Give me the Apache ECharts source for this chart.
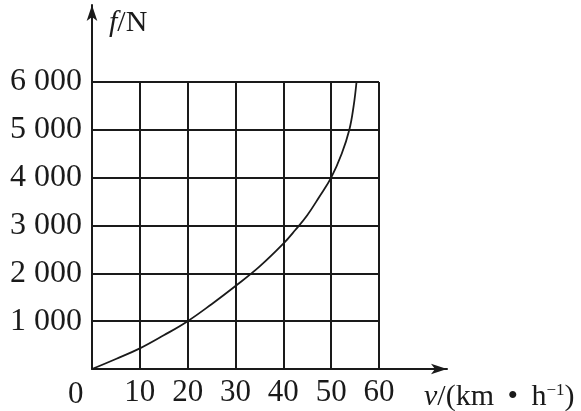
<!DOCTYPE html>
<html>
<head>
<meta charset="utf-8">
<script src="https://cdn.jsdelivr.net/npm/echarts@6/dist/echarts.min.js"></script>
<style>html,body{margin:0;padding:0;background:#fff;}#c{width:581px;height:411px;}</style>
</head>
<body>
<div id="c"></div>
<script>
// Data
var xTicks = [0, 10, 20, 30, 40, 50, 60];
var yTicks = [0, 1000, 2000, 3000, 4000, 5000, 6000];
var yTickLabels = ['0', '1 000', '2 000', '3 000', '4 000', '5 000', '6 000'];
var speed = [0, 5, 10, 15, 20, 25, 30, 35, 40, 42.5, 45, 47.5, 50, 52.2, 53.8, 54.7, 55.3];
var force = [0, 210, 431, 705, 1000, 1355, 1735, 2140, 2620, 2905, 3215, 3596, 4000, 4500, 5000, 5500, 6000];

var curve = speed.map(function (v, i) { return [v, force[i]]; });
var ink = '#1a1a1a';
var serif = '"Liberation Serif", "DejaVu Serif", serif';

var chart = echarts.init(document.getElementById('c'), null, {renderer: 'canvas'});
chart.setOption({
  backgroundColor: '#fff',
  animation: false,
  grid: [
    {left: 92, right: 202, top: 82, bottom: 42},
    {left: 92, right: 134, top: 5, bottom: 42}
  ],
  xAxis: [
    {
      type: 'value', gridIndex: 0, min: 0, max: 60, interval: 10,
      axisLine: {show: false},
      axisTick: {show: false},
      splitLine: {show: true, lineStyle: {color: ink, width: 2}},
      axisLabel: {
        color: ink, fontFamily: serif, fontSize: 31, margin: 8,
        formatter: function (v) { return v === 0 ? '' : String(v); }
      }
    },
    {
      type: 'value', gridIndex: 1, min: 0, max: 74,
      axisLine: {show: true, onZero: false, lineStyle: {color: ink, width: 2},
        symbol: ['none', 'arrow'], symbolSize: [8, 16], symbolOffset: [0, 0]},
      axisTick: {show: false}, axisLabel: {show: false}, splitLine: {show: false}
    }
  ],
  yAxis: [
    {
      type: 'value', gridIndex: 0, min: 0, max: 6000, interval: 1000,
      axisLine: {show: false},
      axisTick: {show: false},
      splitLine: {show: true, lineStyle: {color: ink, width: 2}},
      axisLabel: {
        color: ink, fontFamily: serif, fontSize: 32, margin: 10,
        formatter: function (v) {
          var i = yTicks.indexOf(v);
          return v === 0 ? '' : yTickLabels[i];
        }
      }
    },
    {
      type: 'value', gridIndex: 1, min: 0, max: 7500,
      axisLine: {show: true, onZero: false, lineStyle: {color: ink, width: 2},
        symbol: ['none', 'arrow'], symbolSize: [8, 16], symbolOffset: [0, 0]},
      axisTick: {show: false}, axisLabel: {show: false}, splitLine: {show: false}
    }
  ],
  series: [
    {
      type: 'line', xAxisIndex: 0, yAxisIndex: 0,
      data: curve, smooth: 0.4, showSymbol: false, symbol: 'none',
      lineStyle: {color: ink, width: 1.8}
    }
  ],
  graphic: [
    {
      type: 'text', left: 68, top: 379,
      style: {text: '0', fill: ink, font: '31px ' + serif}
    },
    {
      type: 'text', left: 109, top: 8,
      style: {
        text: '{i|f}/N', fill: ink, font: '30px ' + serif,
        rich: {i: {fontStyle: 'italic', fontFamily: serif, fontSize: 30, fill: ink}}
      }
    },
    {
      type: 'text', left: 424, top: 382,
      style: {
        text: '{i|v}/(km \u2009•\u2009 h{s|−1})', fill: ink, font: '30px ' + serif,
        rich: {
          i: {fontStyle: 'italic', fontFamily: serif, fontSize: 30},
          s: {fontFamily: serif, fontSize: 17, verticalAlign: 'top', padding: [0, 0, 14, 0]}
        }
      }
    }
  ]
});
</script>
</body>
</html>
